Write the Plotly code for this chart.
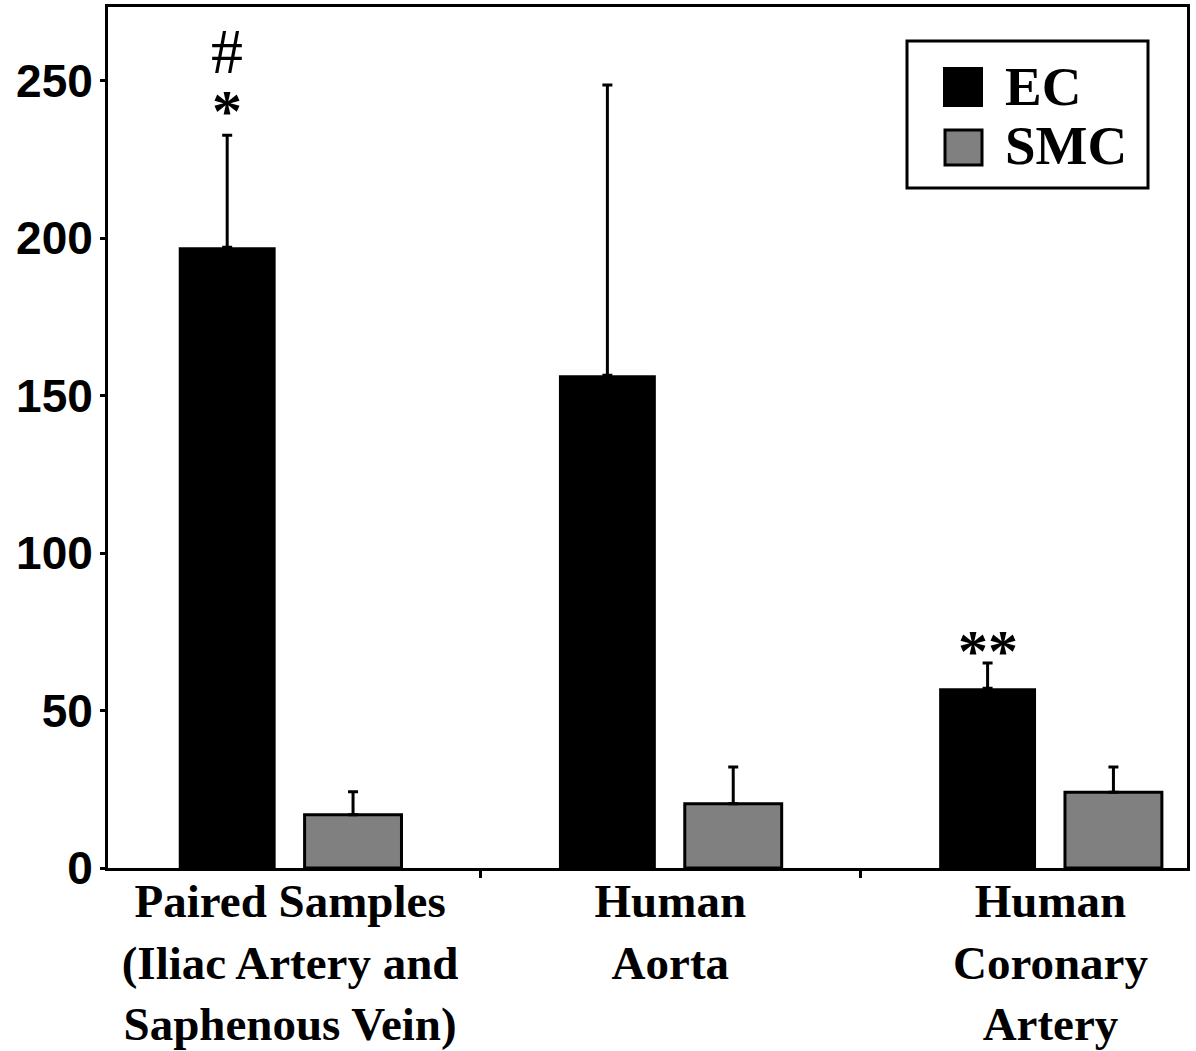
import plotly.graph_objects as go

# ---- data ----
categories = [
    "Paired Samples<br>(Iliac Artery and<br>Saphenous Vein)",
    "Human<br>Aorta",
    "Human<br>Coronary<br>Artery",
]
ec_values = [197.2, 156.5, 57.1]
ec_err = [35.6, 92.2, 8.0]
smc_values = [16.9, 20.4, 24.1]
smc_err = [7.3, 11.7, 8.0]
y_ticks = [0, 50, 100, 150, 200, 250]
series_names = ["EC", "SMC"]
series_colors = ["#000000", "#808080"]

BARGAP = 0.338
BARGROUPGAP = 0.23

fig = go.Figure()
fig.add_trace(go.Bar(
    name=series_names[0], x=categories, y=ec_values,
    marker=dict(color=series_colors[0], line=dict(color="black", width=0)),
    error_y=dict(type="data", array=ec_err, arrayminus=[0] * len(ec_err),
                 symmetric=False, color="black", thickness=3, width=5),
    showlegend=False,
))
fig.add_trace(go.Bar(
    name=series_names[1], x=categories, y=smc_values,
    marker=dict(color=series_colors[1], line=dict(color="black", width=3)),
    error_y=dict(type="data", array=smc_err, arrayminus=[0] * len(smc_err),
                 symmetric=False, color="black", thickness=3, width=5),
    showlegend=False,
))

# significance marks above EC bars
ec_off = (1 - BARGAP) / 4
ann = []
ann.append(dict(x=0 - ec_off, y=ec_values[0] + ec_err[0], xref="x", yref="y",
                text="<b>*</b>", showarrow=False, yanchor="bottom", yshift=-11,
                font=dict(family="Liberation Serif", size=60, color="black")))
ann.append(dict(x=0 - ec_off, y=ec_values[0] + ec_err[0], xref="x", yref="y",
                text="#", showarrow=False, yanchor="bottom", yshift=46,
                font=dict(family="Liberation Serif", size=64, color="black")))
ann.append(dict(x=2 - ec_off, y=ec_values[2] + ec_err[2], xref="x", yref="y",
                text="<b>**</b>", showarrow=False, yanchor="bottom", yshift=-23,
                font=dict(family="Liberation Serif", size=60, color="black")))

# custom legend (box, swatches, labels)
def px2x(px):
    return (px - 108) / 1079.0

def py2y(py):
    return (868 - py) / 861.0

shapes = [
    dict(type="rect", xref="paper", yref="paper",
         x0=px2x(907), x1=px2x(1148), y0=py2y(188), y1=py2y(41),
         line=dict(color="black", width=3), fillcolor="white", layer="above"),
    dict(type="rect", xref="paper", yref="paper",
         x0=px2x(944), x1=px2x(982), y0=py2y(106), y1=py2y(68),
         line=dict(color="black", width=2), fillcolor=series_colors[0], layer="above"),
    dict(type="rect", xref="paper", yref="paper",
         x0=px2x(945), x1=px2x(982), y0=py2y(165), y1=py2y(130),
         line=dict(color="black", width=3), fillcolor=series_colors[1], layer="above"),
]
ann.append(dict(x=px2x(1003), y=py2y(86), xref="paper", yref="paper",
                text="<b>EC</b>", showarrow=False, xanchor="left", yanchor="middle",
                font=dict(family="Liberation Serif", size=55, color="black")))
ann.append(dict(x=px2x(1003), y=py2y(145), xref="paper", yref="paper",
                text="<b>SMC</b>", showarrow=False, xanchor="left", yanchor="middle",
                font=dict(family="Liberation Serif", size=55, color="black")))

fig.update_layout(
    width=1196, height=1051,
    margin=dict(l=108, r=9, t=7, b=183, pad=0, autoexpand=False),
    paper_bgcolor="white", plot_bgcolor="white",
    barmode="group", bargap=BARGAP, bargroupgap=BARGROUPGAP,
    annotations=ann, shapes=shapes,
    showlegend=False,
)
fig.update_xaxes(
    type="category", range=[-0.479, 2.359], automargin=False,
    showline=True, linecolor="black", linewidth=3, mirror=True,
    ticks="outside", tickson="boundaries", ticklen=7, tickwidth=3, tickcolor="black",
    tickfont=dict(family="Liberation Serif", size=47, color="black"),
    ticklabelstandoff=-10,
    showgrid=False, zeroline=False,
    tickvals=categories,
    ticktext=["<b>" + c.replace("<br>", "</b><br><b>") + "</b>" for c in categories],
)
fig.update_yaxes(
    range=[0, 273.5], automargin=False,
    tickvals=y_ticks, ticktext=["<b>%d</b>" % v for v in y_ticks],
    showline=True, linecolor="black", linewidth=3, mirror=True,
    ticks="outside", ticklen=5, tickwidth=3, tickcolor="black",
    tickfont=dict(family="Liberation Sans", size=46, color="black"),
    ticklabelstandoff=-2,
    showgrid=False, zeroline=False,
)

fig.write_html("out.html")
